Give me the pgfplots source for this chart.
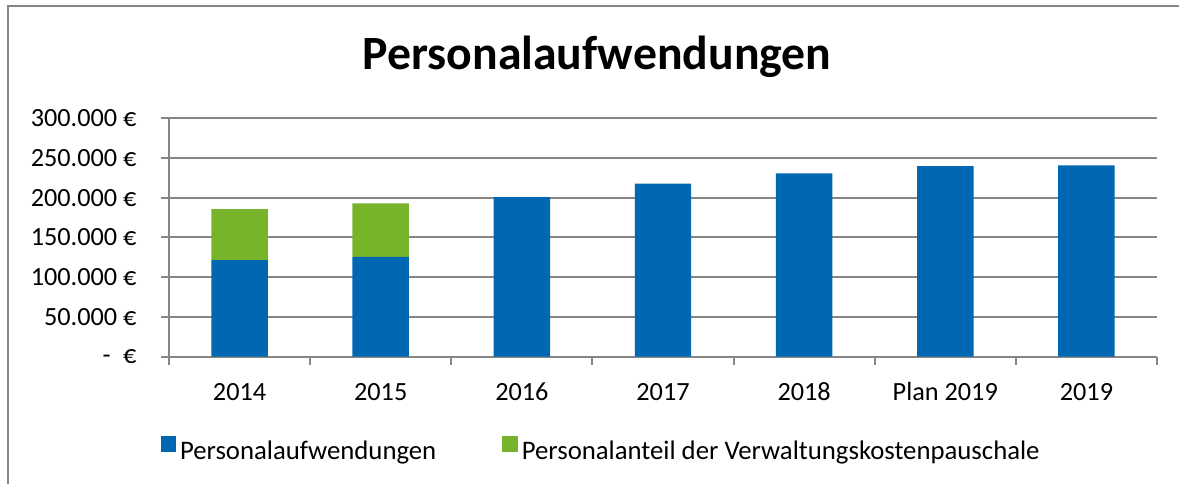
\documentclass[border=0pt]{standalone}
\usepackage{pgfplots}
\pgfplotsset{compat=1.18}
\usepackage{fontspec}
\setmainfont{Carlito}
\definecolor{barblue}{HTML}{0068B3}
\definecolor{bargreen}{HTML}{78B42A}
\definecolor{axgray}{HTML}{868686}
\begin{document}
\begin{tikzpicture}
% frame and title, coordinates in pixels of the reference (1px = 0.4pt)
\begin{scope}[x=0.4pt,y=-0.4pt]
\useasboundingbox (0,0) rectangle (1179,484);
\draw[axgray, line width=0.8pt] (7.5,484) -- (7.5,6) -- (1179,6);
\node[font=\fontsize{19.1}{22}\selectfont\bfseries, anchor=base, inner sep=0pt] at (597,70) {Personalaufwendungen};
\end{scope}
\begin{axis}[
    at={(67.6pt,-142.6pt)}, anchor=south west,
    scale only axis,
    width=395.2pt, height=95.2pt,
    xmin=-0.5, xmax=6.5,
    ymin=0, ymax=300000,
    ybar stacked, bar width=0.4,
    axis x line*=bottom, axis y line*=left,
    axis line style={axgray, line width=0.8pt},
    ymajorgrids, grid style={axgray, line width=0.8pt},
    tick align=outside,
    major tick length=3.2pt, minor tick length=3.2pt,
    xtick={0,...,6},
    xticklabels={2014,2015,2016,2017,2018,Plan 2019,2019},
    major x tick style={draw=none},
    minor xtick={-0.5,0.5,...,6.5},
    minor x tick style={draw=axgray, line width=0.8pt},
    ytick={0,50000,...,300000},
    yticklabels={-\hspace{5pt}€,50.000 €,100.000 €,150.000 €,200.000 €,250.000 €,300.000 €},
    ytick style={axgray, line width=0.8pt},
    scaled y ticks=false,
    tick label style={font=\fontsize{10.5}{12}\selectfont, black},
    yticklabel style={anchor=east, inner sep=0pt, xshift=-9.6pt},
    xticklabel style={anchor=base, inner sep=0pt, yshift=-14.4pt},
    legend columns=2,
    legend style={at={(axis description cs:-0.0091,-0.3908)}, anchor=west,
        draw=none, fill=none, inner sep=0pt,
        font=\fontsize{10.7}{12}\selectfont,
        nodes={inner sep=0pt},
        /tikz/every even column/.append style={column sep=26.4pt}},
    legend image code/.code={\fill[#1] (0pt,0pt) rectangle (6.2pt,6.2pt); \path (7.8pt,0pt);},
]
\addplot[fill=barblue, draw=none] coordinates {
    (0,121500) (1,125700) (2,201000) (3,218000) (4,230700) (5,240000) (6,241000)
};
\addlegendentry{Personalaufwendungen}
\addplot[fill=bargreen, draw=none] coordinates {
    (0,64300) (1,67300) (2,0) (3,0) (4,0) (5,0) (6,0)
};
\addlegendentry{Personalanteil der Verwaltungskostenpauschale}
\end{axis}
\end{tikzpicture}
\end{document}
